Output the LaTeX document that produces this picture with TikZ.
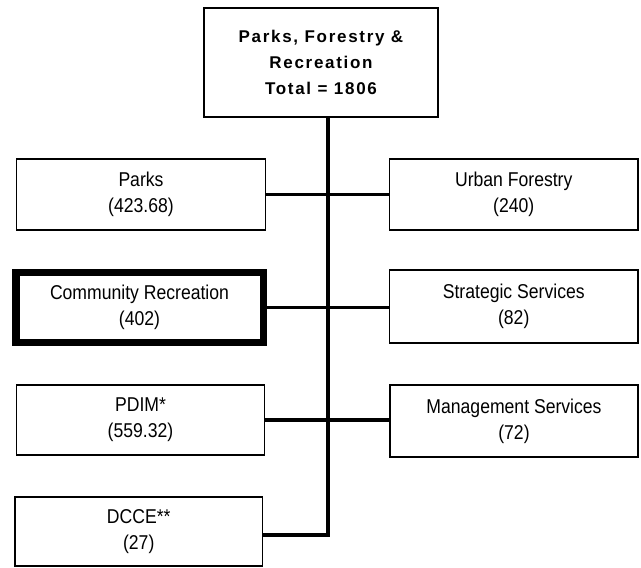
\documentclass[tikz,border=0pt]{standalone}
\usepackage{fontspec}
\setmainfont{Liberation Sans}
\newfontfamily\bodyfont{Liberation Sans}[FakeStretch=0.88]
\newfontfamily\headfont{Liberation Sans}[LetterSpace=10]
\begin{document}
\begin{tikzpicture}[x=1pt,y=-1pt,
  box/.style={draw=black,line width=1.6pt,fill=white,inner sep=0pt,align=center,
    font=\bodyfont\fontsize{20}{26}\selectfont},
  thickbox/.style={box,line width=7.5pt},
  conn/.style={draw=black,line width=3.2pt,line cap=rect,line join=miter}]
\useasboundingbox (0,0) rectangle (641,568);
\coordinate (j) at (328,535);
% connectors first (under boxes)
\node[box,minimum width=234pt,minimum height=109pt,font=\headfont\bfseries\fontsize{17}{26}\selectfont] (top) at (321,62.5)
  {Parks, Forestry \&\\Recreation\\Total = 1806};
\node[box,minimum width=249pt,minimum height=71pt] (parks) at (141,194.5) {Parks\\(423.68)};
\node[thickbox,minimum width=247.5pt,minimum height=70pt] (comm) at (139.5,307.5) {Community Recreation\\(402)};
\node[box,minimum width=248pt,minimum height=70pt] (pdim) at (140.5,420) {PDIM*\\(559.32)};
\node[box,minimum width=247.5pt,minimum height=69pt] (dcce) at (138.75,531.5) {DCCE**\\(27)};
\node[box,minimum width=248.5pt,minimum height=71pt] (urban) at (513.75,194.5) {Urban Forestry\\(240)};
\node[box,minimum width=248.5pt,minimum height=73pt] (strat) at (513.75,306.5) {Strategic Services\\(82)};
\node[box,minimum width=248pt,minimum height=72pt] (mgmt) at (514,421) {Management Services\\(72)};
\draw[conn,line cap=butt] (top.south -| j) -- (j) -- (j -| dcce.east);
\draw[conn,line cap=butt] (parks.east) -- (parks.east -| urban.west);
\draw[conn,line cap=butt] (comm.east) -- (comm.east -| strat.west);
\draw[conn,line cap=butt] (pdim.east) -- (pdim.east -| mgmt.west);
\end{tikzpicture}
\end{document}
